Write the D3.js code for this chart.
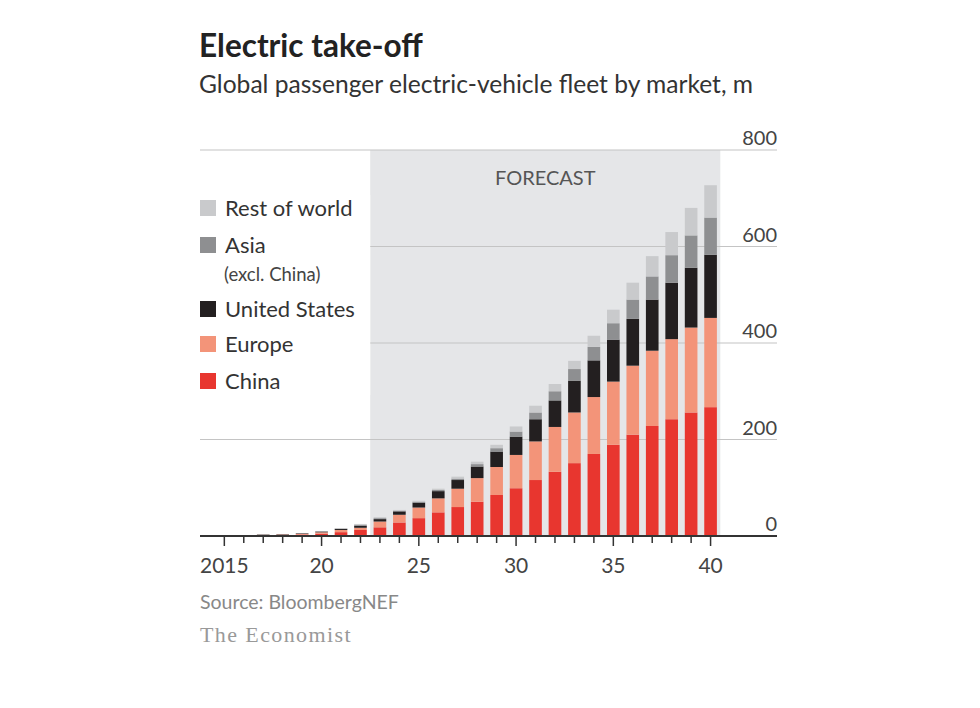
<!DOCTYPE html>
<html>
<head>
<meta charset="utf-8">
<script src="https://cdn.jsdelivr.net/npm/d3@7/dist/d3.min.js"></script>
<style>
  body { margin: 0; background: #fff; }
  svg { display: block; }
  text { font-family: Lato, "Noto Sans", sans-serif; }
</style>
</head>
<body>
<svg id="chart" width="980" height="708"></svg>
<script>
const years = d3.range(2015, 2041);
const china  = [0.4,0.9,1.6,2.2,3.2,5,8,12.5,18,28,37,49,60,71,85,99,116,133,151,170,189,210,228,242,256,267];
const europe = [0.3,0.5,0.8,0.9,1.4,2.6,4.5,4.5,12,16,22,29,38,49,58,69,80,93,105,118,131,143,156,166,176,185];
const us     = [0.3,0.5,0.7,0.8,1.1,1.6,2.3,4,5,7,10,15,18,24,32,38,46,55,66,76,87,97,106,117,124,131];
const asia   = [0.05,0.1,0.2,0.2,0.3,0.4,0.6,2,2,1.5,2,2.5,3,5,7,10.5,14,19,24,28,34,40,48,57,67,77];
const rest   = [0.05,0.1,0.1,0.1,0.1,0.3,0.5,2,2,1.5,2,2.5,4,5,7,10.5,14,15,17,23,28,35,42,48,57,67];
const seriesKeys = ["China","Europe","United States","Asia","Rest of world"];
const seriesValues = [china, europe, us, asia, rest];
const colors = ["#e8362f","#f39479","#231f20","#8e8f91","#c9cacc"];
const yTicks = [0,200,400,600,800];
const xTickLabels = {2015:"2015",2020:"20",2025:"25",2030:"30",2035:"35",2040:"40"};
const forecastStart = 2023;

const svg = d3.select("#chart");

const x = d3.scaleBand().domain(years).range([214.6, 720.3]).paddingInner(0.35).paddingOuter(0.175);
const y = d3.scaleLinear().domain([0, 800]).range([536, 150]);
const gridLeft = 200, gridRight = 777;

const table = years.map((yr, i) => {
  const row = {year: yr};
  seriesKeys.forEach((k, j) => row[k] = seriesValues[j][i]);
  return row;
});
const stack = d3.stack().keys(seriesKeys)(table);

// forecast shading
const fx0 = x(forecastStart) - (x.step() - x.bandwidth()) / 2;
svg.append("rect")
  .attr("x", fx0).attr("y", y(800))
  .attr("width", x.range()[1] - fx0).attr("height", y(0) - y(800))
  .attr("fill", "#e5e6e8");
svg.append("text")
  .attr("x", (fx0 + x.range()[1]) / 2).attr("y", 185)
  .attr("text-anchor", "middle")
  .attr("font-size", 20).attr("fill", "#555")
  .text("FORECAST");

// gridlines
svg.append("g").selectAll("line").data(yTicks.filter(d => d > 0)).join("line")
  .attr("x1", gridLeft).attr("x2", gridRight)
  .attr("y1", d => y(d)).attr("y2", d => y(d))
  .attr("stroke", "#c4c4c4").attr("stroke-width", 1.2);

// y labels
svg.append("g").selectAll("text").data(yTicks).join("text")
  .attr("x", gridRight).attr("y", d => y(d) - 5)
  .attr("text-anchor", "end")
  .attr("font-size", 20).attr("fill", "#444")
  .text(d => d);

// bars
svg.append("g").selectAll("g").data(stack).join("g")
  .attr("fill", (d, i) => colors[i])
  .selectAll("rect").data(d => d).join("rect")
  .attr("x", d => x(d.data.year))
  .attr("width", x.bandwidth())
  .attr("y", d => y(d[1]))
  .attr("height", d => Math.max(0, y(d[0]) - y(d[1])));

// baseline
svg.append("line")
  .attr("x1", gridLeft).attr("x2", gridRight)
  .attr("y1", y(0)).attr("y2", y(0))
  .attr("stroke", "#333").attr("stroke-width", 2);

// x ticks
svg.append("g").selectAll("line").data(years).join("line")
  .attr("x1", d => x(d) + x.bandwidth() / 2).attr("x2", d => x(d) + x.bandwidth() / 2)
  .attr("y1", y(0)).attr("y2", d => y(0) + (xTickLabels[d] ? 10 : 7))
  .attr("stroke", "#333").attr("stroke-width", 1.5);

svg.append("g").selectAll("text").data(years.filter(d => xTickLabels[d])).join("text")
  .attr("x", d => x(d) + x.bandwidth() / 2).attr("y", 573)
  .attr("text-anchor", "middle")
  .attr("font-size", 21).attr("fill", "#444")
  .text(d => xTickLabels[d]);

// legend (white backing masks gridlines left of forecast area)
const legendItems = [
  {key: "Rest of world", y: 200},
  {key: "Asia", y: 237, sub: "(excl. China)"},
  {key: "United States", y: 301},
  {key: "Europe", y: 336},
  {key: "China", y: 373}
];
const lg = svg.append("g");
lg.append("rect").attr("x", gridLeft).attr("y", 195)
  .attr("width", fx0 - gridLeft).attr("height", 200).attr("fill", "#fff");
legendItems.forEach(it => {
  const idx = seriesKeys.indexOf(it.key);
  lg.append("rect").attr("x", 200).attr("y", it.y).attr("width", 16).attr("height", 16)
    .attr("fill", colors[idx]);
  lg.append("text").attr("x", 225).attr("y", it.y + 16)
    .attr("font-size", 22).attr("fill", "#333").text(it.key);
  if (it.sub) {
    lg.append("text").attr("x", 224).attr("y", it.y + 44)
      .attr("font-size", 18.5).attr("fill", "#444").text(it.sub);
  }
});

// titles
svg.append("text").attr("x", 199).attr("y", 57)
  .attr("font-size", 31.5).attr("font-weight", "bold").attr("fill", "#222")
  .text("Electric take-off");
svg.append("text").attr("x", 199).attr("y", 93)
  .attr("font-size", 24.6).attr("fill", "#333")
  .text("Global passenger electric-vehicle fleet by market, m");

// footer
svg.append("text").attr("x", 200).attr("y", 609)
  .attr("font-size", 19.5).attr("fill", "#888")
  .text("Source: BloombergNEF");
svg.append("text").attr("x", 200).attr("y", 642)
  .attr("font-size", 22).attr("fill", "#999").attr("letter-spacing", 1.4)
  .style("font-family", "'Liberation Serif', 'DejaVu Serif', serif")
  .text("The Economist");
</script>
</body>
</html>
